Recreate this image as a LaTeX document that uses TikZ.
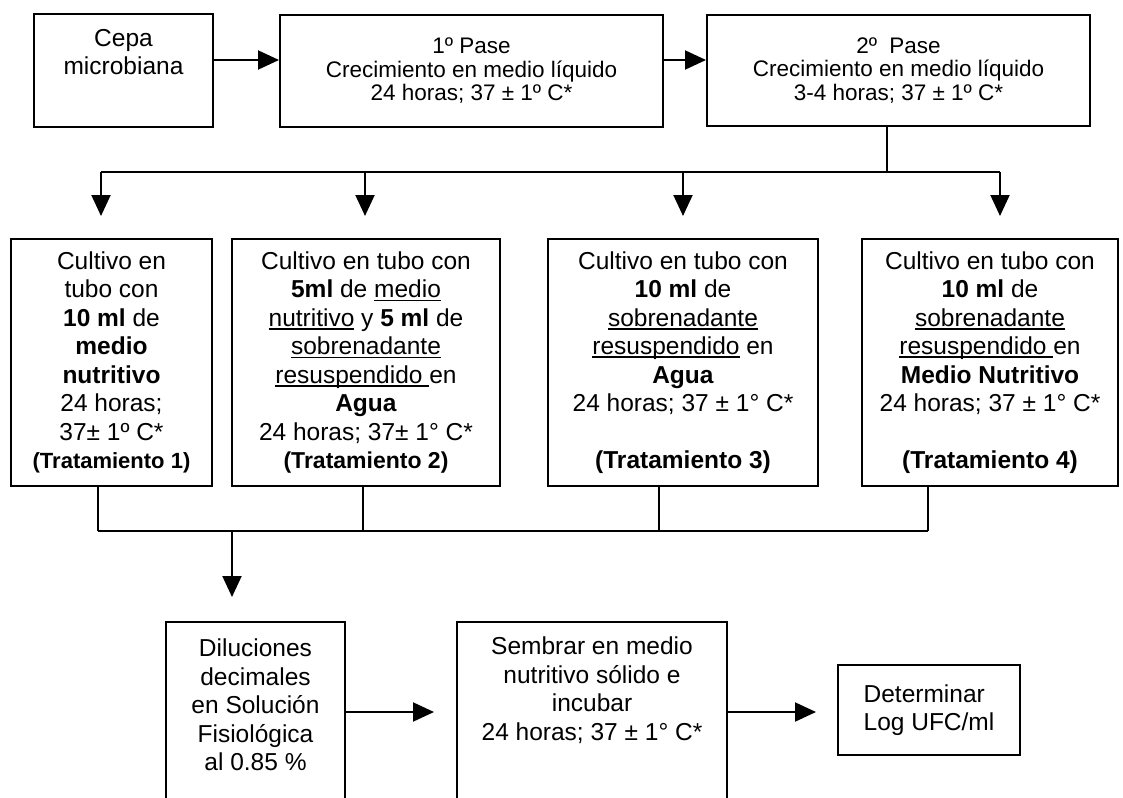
\documentclass[tikz,border=0pt]{standalone}
\usepackage{fontspec}
\setmainfont{Liberation Sans}
\usetikzlibrary{arrows.meta}
\newlength\ulw
\newcommand\myul[1]{\settowidth\ulw{#1}\rlap{\rule[-3.5pt]{\ulw}{1.6pt}}#1}
\begin{document}
\begin{tikzpicture}[x=1pt,y=-1pt,
  box/.style={draw,line width=2pt,inner sep=0pt,align=center,font=\fontsize{24.5}{28.5}\selectfont},
  pase/.style={box,font=\fontsize{22.5}{23.5}\selectfont},
  txt/.style={inner sep=0pt,align=center,font=\fontsize{24.5}{28.5}\selectfont},
  arr/.style={line width=2pt,-{Triangle[length=21pt,width=19pt]}},
  ln/.style={line width=2pt}]
\useasboundingbox (0,0) rectangle (1123,797);
\clip (0,0) rectangle (1123,797);
\fill[white] (0,0) rectangle (1123,797);

% top row
\node[box,minimum width=179pt,minimum height=113pt] (cepa) at (123.5,70.5) {Cepa\\microbiana\\\strut};
\node[pase,minimum width=383pt,minimum height=112pt] (p1) at (471.5,71) {1º Pase\\Crecimiento en medio líquido\\24 horas; 37 ± 1º C*};
\node[pase,minimum width=383pt,minimum height=111pt] (p2) at (898.5,70.5) {2º\ \ Pase\\Crecimiento en medio líquido\\3-4 horas; 37 ± 1º C*};

\draw[arr] ([yshift=10.5pt]cepa.east) -- ([yshift=10.5pt]cepa.east -| p1.west);
\draw[arr] ([yshift=11pt]p1.east) -- ([yshift=11pt]p1.east -| p2.west);

% middle row
\node[box,minimum width=201pt,minimum height=247pt] (t1) at (111.5,362.5) {Cultivo en\\tubo con\\\textbf{10 ml} de\\\textbf{medio}\\\textbf{nutritivo}\\24 horas;\\37± 1º C*\\{\fontsize{22}{28.5}\selectfont\textbf{(Tratamiento 1)}}};
\node[box,minimum width=268pt,minimum height=247pt] (t2) at (366,362.5) {Cultivo en tubo con\\\textbf{5ml} de \myul{medio}\\\myul{nutritivo} y \textbf{5 ml} de\\\myul{sobrenadante}\\\myul{resuspendido\ }en\\\textbf{Agua}\\24 horas; 37± 1° C*\\{\fontsize{23}{28.5}\selectfont\textbf{(Tratamiento 2)}}};
\node[box,minimum width=270pt,minimum height=247pt] (t3) at (683,362.5) {Cultivo en tubo con\\\textbf{10 ml} de\\\myul{sobrenadante}\\\myul{resuspendido} en\\\textbf{Agua}\\24 horas; 37 ± 1° C*\\\strut\\\textbf{(Tratamiento 3)}};
\node[box,minimum width=256pt,minimum height=247pt] (t4) at (990,362.5) {Cultivo en tubo con\\\textbf{10 ml} de\\\myul{sobrenadante}\\\myul{resuspendido\ }en\\\textbf{Medio Nutritivo}\\24 horas; 37 ± 1° C*\\\strut\\\textbf{(Tratamiento 4)}};

% distribution bus
\coordinate (s2) at (887,172);
\coordinate (b1) at (101,172);
\coordinate (b2) at (365,172);
\coordinate (b3) at (683,172);
\coordinate (b4) at (1000,172);
\draw[ln] (p2.south -| s2) -- (s2);
\draw[ln] (b1) -- (b4);
\draw[arr,shorten >=22pt] (b1) -- (b1 |- t1.north);
\draw[arr,shorten >=22pt] (b2) -- (b2 |- t2.north);
\draw[arr,shorten >=22pt] (b3) -- (b3 |- t3.north);
\draw[arr,shorten >=22pt] (b4) -- (b4 |- t4.north);

% collection bus
\coordinate (m1) at (98,531);
\coordinate (m2) at (363,531);
\coordinate (m3) at (659,531);
\coordinate (m4) at (928,531);
\coordinate (md) at (232,531);
\draw[ln] (t1.south -| m1) -- (m1);
\draw[ln] (t2.south -| m2) -- (m2);
\draw[ln] (t3.south -| m3) -- (m3);
\draw[ln] (t4.south -| m4) -- (m4);
\draw[ln] (m1) -- (m4);

% bottom row
\node[box,minimum width=179pt,minimum height=180pt] (dil) at (255.5,712) {};
\node[txt] (dilt) at (255.5,705) {Diluciones\\decimales\\en Solución\\Fisiológica\\al 0.85 \%};
\node[box,minimum width=270pt,minimum height=180pt] (sem) at (592,712) {};
\node[txt] (semt) at (592,690) {Sembrar en medio\\nutritivo sólido e\\incubar\\24 horas; 37 ± 1° C*};
\node[box,minimum width=182pt,minimum height=90pt,align=left] (det) at (929,710) {Determinar\\Log UFC/ml};

\draw[arr,shorten >=24pt] (md) -- (md |- dil.north);
\draw[arr,shorten >=22pt] (dil.east) -- (sem.west);
\draw[arr,shorten >=21pt] (sem.east) -- (sem.east -| det.west);
\end{tikzpicture}
\end{document}
